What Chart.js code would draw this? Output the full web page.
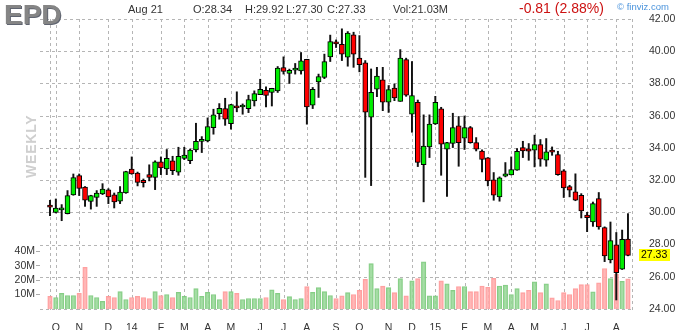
<!DOCTYPE html>
<html><head><meta charset="utf-8">
<script src="https://cdn.jsdelivr.net/npm/chart.js@4.4.1/dist/chart.umd.min.js"></script>
<style>
html,body{margin:0;padding:0;background:#fff;}
#wrap{position:relative;width:680px;height:330px;overflow:hidden;font-family:"Liberation Sans",Arial,sans-serif;}
#c{position:absolute;left:0;top:0;}
.t{position:absolute;white-space:nowrap;line-height:1;color:#333;font-size:11px;}
</style></head><body>
<div id="wrap">
<canvas id="c" width="680" height="330"></canvas>
<div class="t" style="left:4px;top:1px;font-size:28px;font-weight:bold;color:#858585;text-shadow:1px 1px 0 #5f6470;">EPD</div>
<div class="t" style="left:128px;top:4px;">Aug 21</div>
<div class="t" style="left:193px;top:4px;">O:28.34</div>
<div class="t" style="left:245px;top:4px;">H:29.92</div>
<div class="t" style="left:286px;top:4px;">L:27.30</div>
<div class="t" style="left:327px;top:4px;">C:27.33</div>
<div class="t" style="left:393px;top:4px;">Vol:21.03M</div>
<div class="t" style="left:519px;top:1px;font-size:14px;color:#cc1111;">-0.81 (2.88%)</div>
<div class="t" style="left:617px;top:2px;font-size:9.5px;color:#4a93dc;">© finviz.com</div>
<div class="t" style="left:24px;top:178px;font-size:14px;font-weight:bold;color:#cfcfcf;letter-spacing:0.8px;transform:rotate(-90deg);transform-origin:0 0;">WEEKLY</div>
</div>
<script>
// Weekly candles, week of 2013-09-23 (index 0) to week of 2015-08-17 (index 99)
const open = [30.36,30.00,30.15,29.92,31.08,32.28,31.57,30.68,30.93,31.14,
31.39,31.08,30.70,31.20,32.69,32.44,31.99,32.34,32.17,33.13,
32.69,33.20,32.50,33.35,33.20,33.88,34.40,34.43,35.26,36.13,
36.44,35.51,36.52,36.54,36.44,36.92,37.31,37.58,37.44,37.54,
38.99,38.62,38.83,38.78,39.49,36.65,38.10,38.37,39.65,40.50,
40.43,39.63,41.01,39.57,39.28,35.90,37.64,38.22,36.83,37.72,
36.89,39.48,36.10,36.83,32.96,34.06,35.48,36.42,33.92,34.27,
35.37,34.60,35.26,34.33,33.80,33.38,32.01,30.96,32.24,32.32,
32.61,34.02,33.94,33.86,34.20,33.23,33.78,33.59,32.57,31.60,
31.27,31.06,29.83,29.40,30.85,29.05,27.04,27.98,26.47,28.34];
const high = [30.75,30.83,30.48,31.35,32.38,32.38,31.60,31.06,31.35,31.78,
31.47,31.20,31.60,32.55,33.44,32.50,32.07,32.95,33.20,33.44,
33.90,33.48,34.04,34.04,33.93,35.53,34.70,35.86,36.40,36.75,
37.08,36.70,37.48,36.73,37.27,37.54,38.26,37.79,37.70,39.05,
39.65,38.89,39.24,39.92,39.50,37.75,38.58,39.82,41.00,40.70,
41.39,41.22,41.18,40.97,39.42,38.90,39.00,39.00,37.87,37.97,
40.10,39.57,39.36,36.97,36.05,36.05,37.20,36.52,34.35,36.15,
35.95,35.98,35.33,34.64,33.88,33.40,32.47,32.20,33.09,33.44,
33.96,34.41,34.27,34.79,34.52,34.58,34.06,33.79,32.65,31.68,
32.39,31.16,30.00,30.64,31.23,29.10,29.40,28.75,28.90,29.92];
const low = [29.80,29.96,29.48,29.90,31.06,31.04,30.37,30.20,30.37,31.10,
30.54,30.27,30.54,31.18,32.36,31.64,31.57,31.95,31.41,32.34,
32.34,32.34,32.30,33.27,33.02,33.75,33.71,34.37,34.85,35.78,
35.40,35.16,36.24,36.09,36.19,36.60,37.31,36.55,36.60,37.44,
38.58,38.00,38.58,38.58,35.47,36.44,37.13,38.30,39.36,40.23,
39.42,39.07,39.00,38.72,32.17,31.66,37.18,36.31,36.20,36.93,
36.89,37.20,34.97,32.84,30.65,33.40,35.45,32.30,30.98,34.02,
32.86,33.90,34.29,33.81,32.51,31.64,30.75,30.69,32.20,32.32,
32.61,33.40,33.23,32.82,32.86,32.86,33.54,32.30,30.92,30.96,
30.72,29.65,28.80,29.13,28.95,26.94,26.86,24.56,26.45,27.30];
const close = [30.32,30.27,30.19,31.04,32.15,31.49,30.75,31.04,31.20,31.45,
30.95,30.64,31.26,32.53,32.38,31.86,31.84,32.17,33.13,32.75,
33.35,32.59,33.48,33.56,33.87,34.41,34.45,35.33,36.05,36.46,
35.78,36.69,36.48,36.58,37.00,37.37,37.64,37.25,37.69,38.95,
38.74,38.82,38.87,39.40,36.55,37.64,38.43,39.36,40.60,40.46,
39.81,41.12,39.81,39.17,36.22,37.45,38.45,36.83,37.62,37.10,
39.57,37.27,37.25,33.10,34.12,35.48,36.83,34.23,34.33,35.26,
34.33,35.26,34.33,33.92,33.28,31.95,31.06,32.14,32.39,32.65,
33.79,33.81,33.79,34.20,33.30,33.75,33.74,32.34,31.52,31.37,
30.75,30.09,29.67,30.54,29.09,27.29,28.24,26.26,28.33,27.33];
// Volume in millions of shares
const volume = [8.8,8.0,10.8,9.4,9.4,10.8,29.0,9.4,8.0,5.3,
8.8,8.0,12.1,6.6,8.0,8.8,8.0,7.3,12.1,9.4,
10.1,8.0,11.5,8.8,8.0,14.2,8.8,11.5,10.1,6.6,
12.1,12.1,10.8,6.6,7.3,7.3,7.3,8.0,13.4,10.8,
6.6,8.6,6.6,7.3,15.5,11.5,14.9,12.1,9.4,7.3,
9.2,11.4,10.1,13.0,20.6,31.5,14.2,15.9,14.8,11.4,
21.1,9.1,19.5,21.1,32.7,9.1,9.1,19.5,17.5,12.9,
15.6,15.6,12.1,12.1,16.0,15.1,21.3,16.0,16.6,10.1,
14.2,11.4,13.0,18.8,11.4,17.4,7.8,5.9,11.4,10.1,
14.2,16.9,16.9,12.0,18.2,28.1,21.1,24.0,19.2,21.03];
// Month tick labels on the week index axis
const monthTickIdx = [1,5,10,14,19,23,27,31,36,40,44,49,53,58,62,66,71,75,79,83,88,92,97];
const monthTickLabels = ['O','N','D','14','F','M','A','M','J','J','A','S','O','N','D','15','F','M','A','M','J','J','A'];
const priceTicks = [24,26,28,30,32,34,36,38,40,42];
const volumeTicks = [10,20,30,40];

const X_MIN = -1.713, X_MAX = 99.69;
const idx = open.map((_, i) => i);
const up = idx.map(i => close[i] >= open[i]);
const gridColor = '#b5b5b5';
const fontFam = '"Liberation Sans", Arial, sans-serif';

const gridTicks = [0].concat(monthTickIdx, [X_MAX]);
const gridTickLabels = [''].concat(monthTickLabels, ['']);

// dashed grid drawn from the scales' own tick positions
const dashedGrid = {
  id: 'dashedGrid',
  beforeDatasetsDraw(chart) {
    const {ctx, chartArea: a} = chart;
    const xs = chart.scales.x, ys = chart.scales.yPrice;
    ctx.save();
    ctx.strokeStyle = gridColor;
    ctx.lineWidth = 1;
    ctx.setLineDash([3, 3]);
    ctx.beginPath();
    xs.ticks.forEach(t => {
      const px = Math.round(xs.getPixelForValue(t.value)) + 0.5;
      ctx.moveTo(px, a.top);
      ctx.lineTo(px, a.bottom + 1);
    });
    ys.ticks.forEach(t => {
      const py = Math.round(ys.getPixelForValue(t.value)) + 0.5;
      ctx.moveTo(a.left, py);
      ctx.lineTo(a.right + 1, py);
    });
    ctx.stroke();
    ctx.restore();
  }
};

const lastLabel = {
  id: 'lastLabel',
  afterDraw(chart) {
    const s = chart.scales.yPrice;
    const v = close[close.length - 1];
    const y = s.getPixelForValue(v);
    const ctx = chart.ctx;
    ctx.save();
    ctx.fillStyle = '#ffff00';
    ctx.fillRect(s.left + 7, Math.round(y) - 6, 31, 12);
    ctx.fillStyle = '#000';
    ctx.font = '10.5px ' + fontFam;
    ctx.textBaseline = 'middle';
    ctx.textAlign = 'left';
    ctx.fillText(v.toFixed(2), s.left + 9, Math.round(y) + 0.5);
    ctx.restore();
  }
};

Chart.defaults.font.family = fontFam;
Chart.defaults.color = '#333';

new Chart(document.getElementById('c'), {
  type: 'bar',
  data: {
    datasets: [
      {
        label: 'Body',
        data: idx.map(i => ({x: i, y: [open[i], close[i]]})),
        backgroundColor: idx.map(i => up[i] ? '#00ee00' : '#ff0000'),
        borderColor: '#000',
        borderWidth: 1,
        borderSkipped: false,
        barThickness: 5,
        minBarLength: 2,
        grouped: false,
        yAxisID: 'yPrice',
        order: 0
      },
      {
        label: 'Wick',
        data: idx.map(i => ({x: i, y: [low[i], high[i]]})),
        backgroundColor: '#111',
        borderWidth: 0,
        barThickness: 1.3,
        grouped: false,
        yAxisID: 'yPrice',
        order: 1
      },
      {
        label: 'Volume',
        data: idx.map(i => ({x: i, y: volume[i]})),
        backgroundColor: idx.map(i => up[i] ? 'rgba(150,215,150,0.85)' : 'rgba(255,170,170,0.85)'),
        borderColor: idx.map(i => up[i] ? 'rgba(120,200,120,0.9)' : 'rgba(255,150,150,0.9)'),
        borderWidth: 1,
        borderSkipped: 'bottom',
        barThickness: 4.5,
        grouped: false,
        yAxisID: 'yVol',
        order: 2
      }
    ]
  },
  options: {
    responsive: false,
    animation: false,
    layout: {padding: {top: 19, bottom: 0, left: 0, right: 0}},
    plugins: {legend: {display: false}, tooltip: {enabled: false}},
    scales: {
      x: {
        type: 'linear',
        min: X_MIN, max: X_MAX,
        offset: false,
        afterBuildTicks: s => { s.ticks = gridTicks.map(v => ({value: v})); },
        afterFit: s => { s.height = 21; },
        ticks: {
          autoSkip: false, maxRotation: 0, padding: 5,
          font: {size: 10.5},
          callback: (v, i) => gridTickLabels[i]
        },
        grid: {display: false},
        border: {display: false}
      },
      yPrice: {
        type: 'linear',
        position: 'right',
        min: 24, max: 42,
        afterBuildTicks: s => { s.ticks = priceTicks.map(v => ({value: v})); },
        afterFit: s => { s.width = 48; },
        ticks: {padding: 9, font: {size: 10.5}, callback: v => Number(v).toFixed(2)},
        grid: {display: false},
        border: {display: false}
      },
      yVol: {
        type: 'linear',
        position: 'left',
        min: 0, max: 201.4,
        afterBuildTicks: s => { s.ticks = volumeTicks.map(v => ({value: v})); },
        afterFit: s => { s.width = 40; },
        ticks: {padding: 1, font: {size: 10.5}, callback: v => v + 'M'},
        grid: {drawOnChartArea: false, drawTicks: true, tickLength: 4, tickColor: '#aaa'},
        border: {display: false}
      }
    }
  },
  plugins: [dashedGrid, lastLabel]
});
</script>
</body></html>
